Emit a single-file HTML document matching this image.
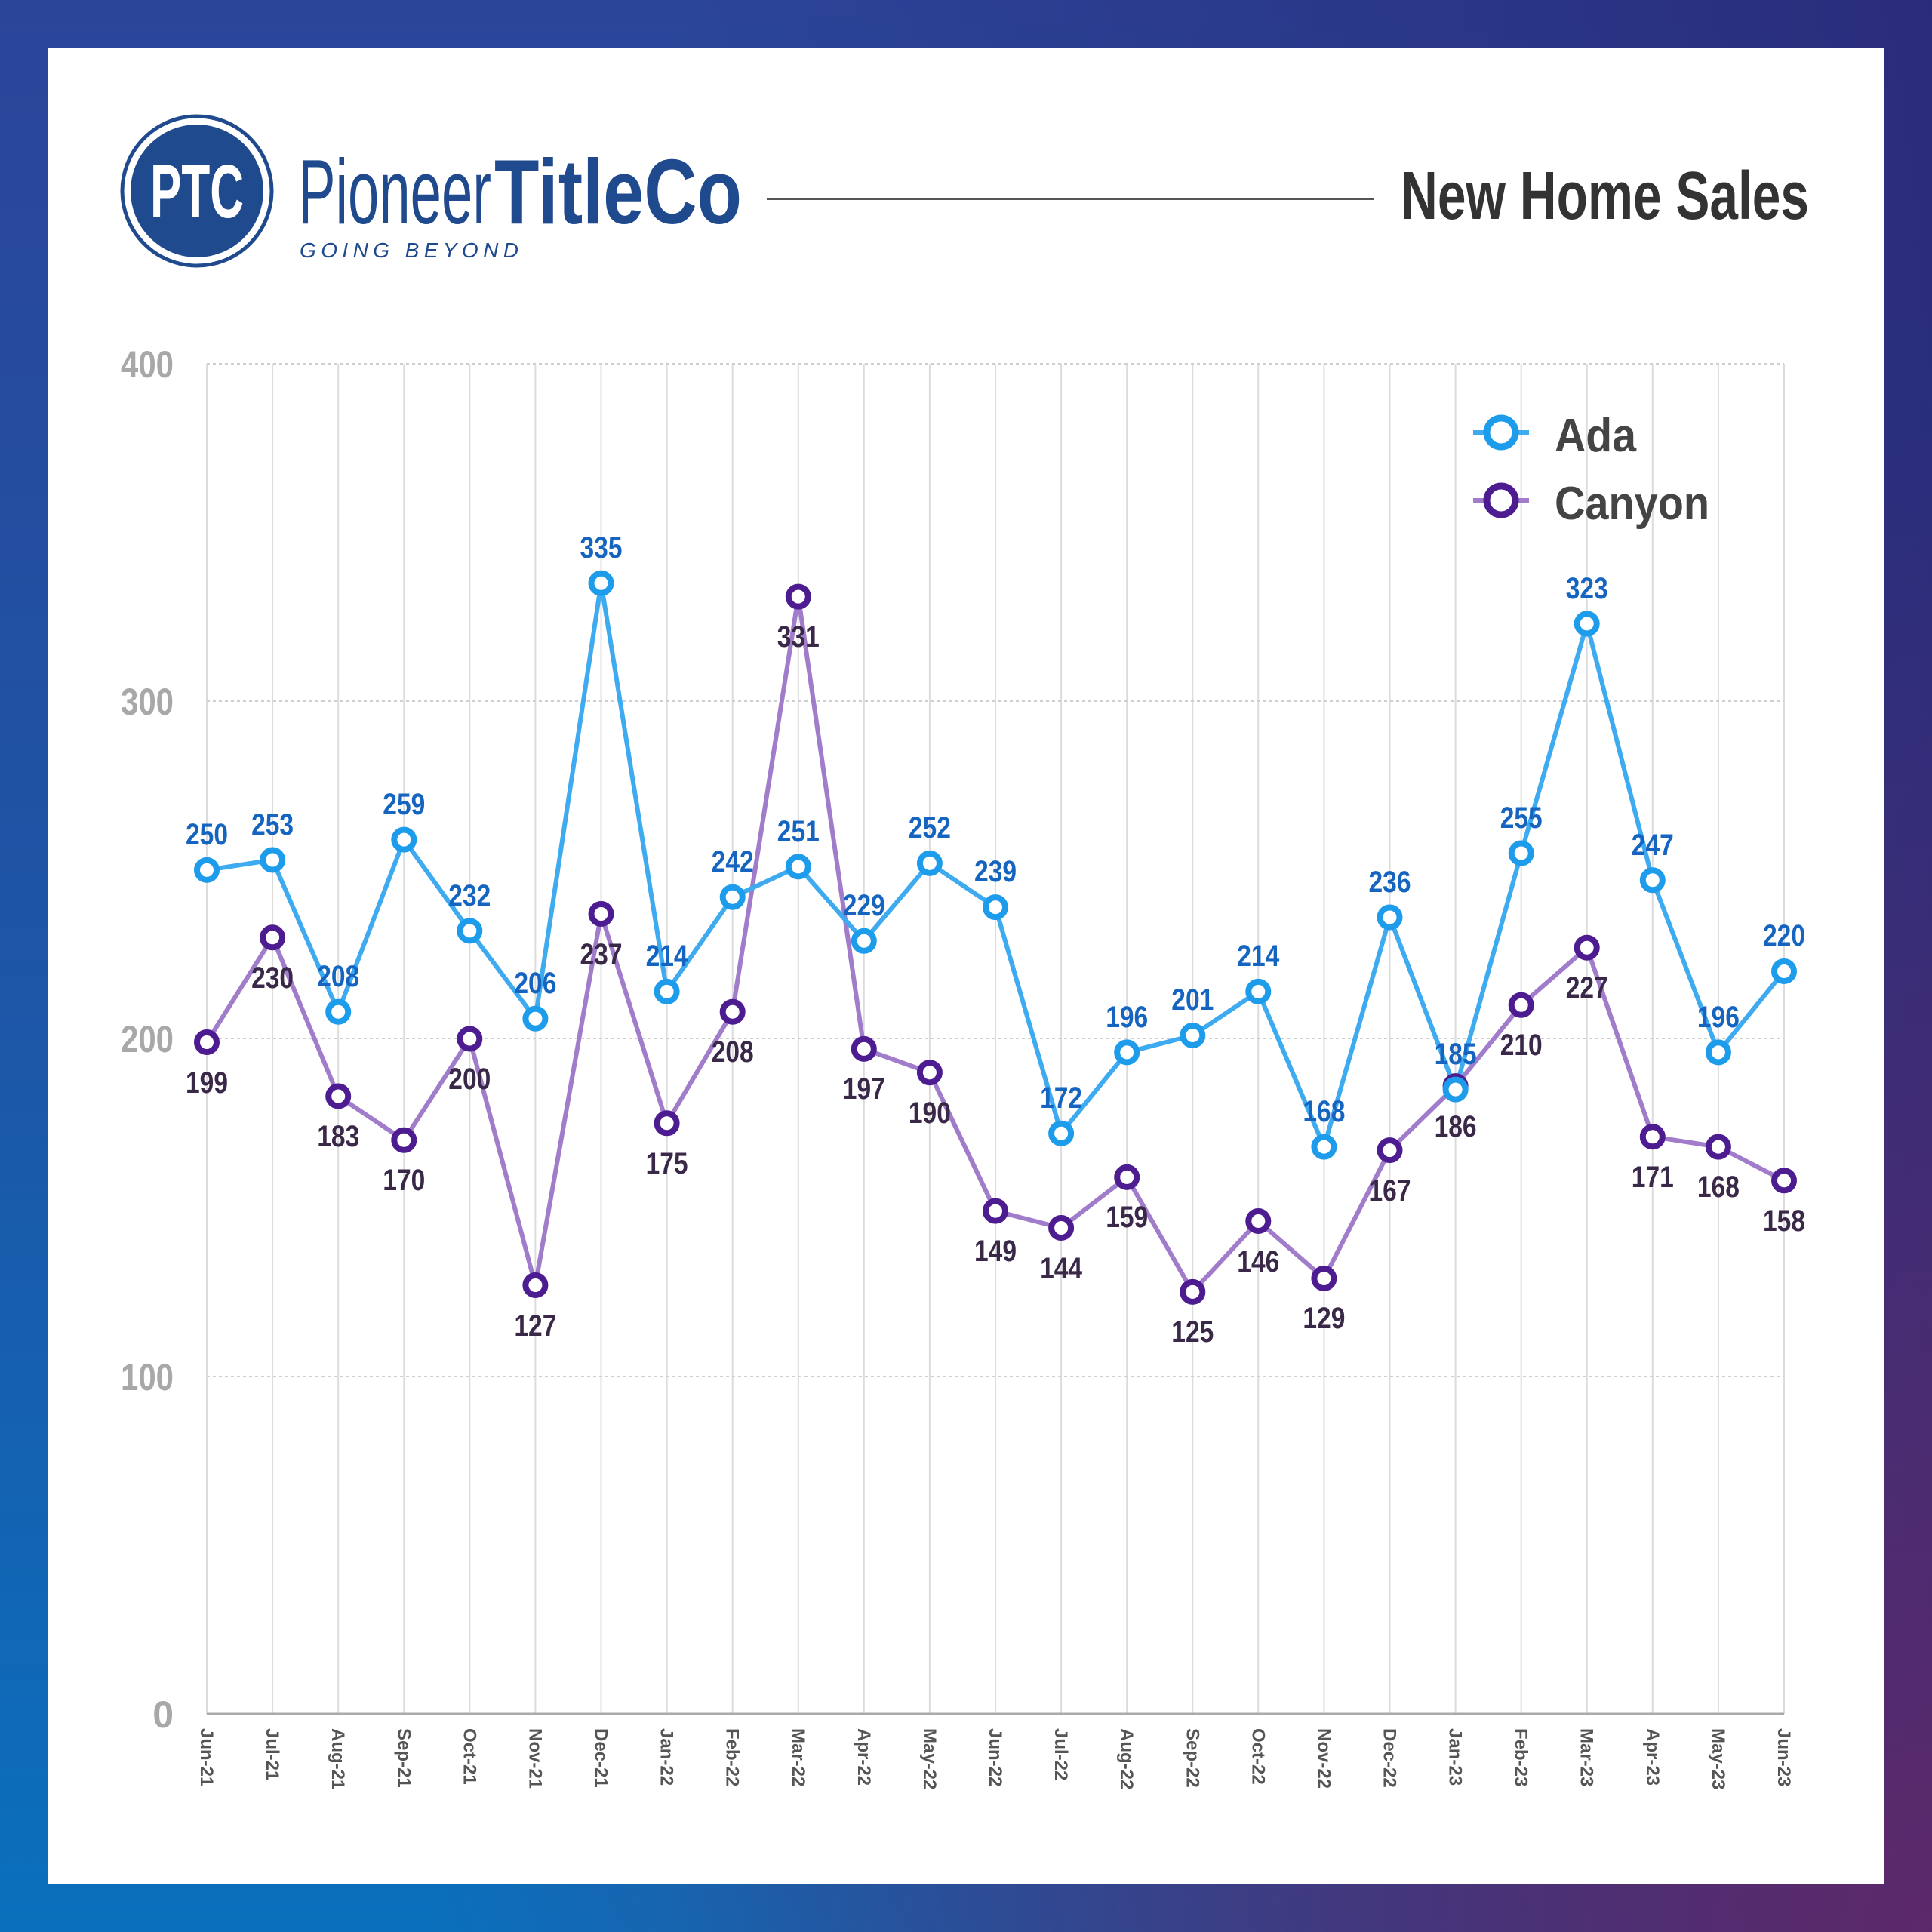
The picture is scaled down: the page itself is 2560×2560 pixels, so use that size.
<!DOCTYPE html>
<html><head><meta charset="utf-8"><style>
html,body{margin:0;padding:0;}
body{width:2560px;height:2560px;position:relative;overflow:hidden;
background:radial-gradient(circle at 100% 100%, rgba(95,40,105,0.95) 0, rgba(95,40,105,0) 55%), linear-gradient(to right, rgba(42,42,125,0) 35%, rgba(42,40,118,0.85) 100%), linear-gradient(to bottom,#2b4599 0%,#1c57a8 55%,#0a70bd 100%);}
#panel{position:absolute;left:64px;top:64px;width:2432px;height:2432px;background:#fff;}
svg{position:absolute;left:0;top:0;}
</style></head><body>
<div id="panel"></div>
<svg width="2560" height="2560" viewBox="0 0 2560 2560" font-family="'Liberation Sans Narrow','Liberation Sans',sans-serif" font-weight="bold">
<circle cx="261" cy="253" r="99" fill="#fff" stroke="#1f4a8e" stroke-width="5"/>
<circle cx="261" cy="253" r="88" fill="#1f4a8e"/>
<text x="261" y="288" text-anchor="middle" fill="#fff" font-size="100" textLength="124" lengthAdjust="spacingAndGlyphs">PTC</text>
<text x="395" y="296" fill="#1f4a8e" font-size="122" font-weight="normal" textLength="256" lengthAdjust="spacingAndGlyphs">Pioneer</text>
<text x="655" y="296" fill="#1f4a8e" font-size="122" textLength="328" lengthAdjust="spacingAndGlyphs">TitleCo</text>
<text x="397" y="341" fill="#1f4a8e" font-size="28" font-weight="normal" font-style="italic" textLength="290" lengthAdjust="spacing">GOING  BEYOND</text>
<line x1="1016" y1="264" x2="1820" y2="264" stroke="#555" stroke-width="2"/>
<text x="1856" y="290" fill="#333" font-size="90" textLength="541" lengthAdjust="spacingAndGlyphs">New Home Sales</text>
<g stroke="#dcdcdc" stroke-width="2">
<line x1="274" y1="482" x2="274" y2="2271"/><line x1="361.1" y1="482" x2="361.1" y2="2271"/><line x1="448.2" y1="482" x2="448.2" y2="2271"/><line x1="535.3" y1="482" x2="535.3" y2="2271"/><line x1="622.3" y1="482" x2="622.3" y2="2271"/><line x1="709.4" y1="482" x2="709.4" y2="2271"/><line x1="796.5" y1="482" x2="796.5" y2="2271"/><line x1="883.6" y1="482" x2="883.6" y2="2271"/><line x1="970.7" y1="482" x2="970.7" y2="2271"/><line x1="1057.8" y1="482" x2="1057.8" y2="2271"/><line x1="1144.8" y1="482" x2="1144.8" y2="2271"/><line x1="1231.9" y1="482" x2="1231.9" y2="2271"/><line x1="1319" y1="482" x2="1319" y2="2271"/><line x1="1406.1" y1="482" x2="1406.1" y2="2271"/><line x1="1493.2" y1="482" x2="1493.2" y2="2271"/><line x1="1580.3" y1="482" x2="1580.3" y2="2271"/><line x1="1667.3" y1="482" x2="1667.3" y2="2271"/><line x1="1754.4" y1="482" x2="1754.4" y2="2271"/><line x1="1841.5" y1="482" x2="1841.5" y2="2271"/><line x1="1928.6" y1="482" x2="1928.6" y2="2271"/><line x1="2015.7" y1="482" x2="2015.7" y2="2271"/><line x1="2102.7" y1="482" x2="2102.7" y2="2271"/><line x1="2189.8" y1="482" x2="2189.8" y2="2271"/><line x1="2276.9" y1="482" x2="2276.9" y2="2271"/><line x1="2364" y1="482" x2="2364" y2="2271"/>
</g>
<g stroke="#cfcfcf" stroke-width="2" stroke-dasharray="4 4">
<line x1="274" y1="482" x2="2364" y2="482"/><line x1="274" y1="929" x2="2364" y2="929"/><line x1="274" y1="1376" x2="2364" y2="1376"/><line x1="274" y1="1824" x2="2364" y2="1824"/>
</g>
<line x1="274" y1="2271" x2="2364" y2="2271" stroke="#aaa" stroke-width="3"/>
<g fill="#a8a8a8" font-size="50" text-anchor="end">
<text x="230" y="500" textLength="70" lengthAdjust="spacingAndGlyphs">400</text>
<text x="230" y="947" textLength="70" lengthAdjust="spacingAndGlyphs">300</text>
<text x="230" y="1394" textLength="70" lengthAdjust="spacingAndGlyphs">200</text>
<text x="230" y="1842" textLength="70" lengthAdjust="spacingAndGlyphs">100</text>
<text x="230" y="2289">0</text>
</g>
<g fill="#555" font-size="24" font-family="'Liberation Sans',sans-serif">
<text transform="translate(266,2290) rotate(90)">Jun-21</text>
<text transform="translate(353.1,2290) rotate(90)">Jul-21</text>
<text transform="translate(440.2,2290) rotate(90)">Aug-21</text>
<text transform="translate(527.3,2290) rotate(90)">Sep-21</text>
<text transform="translate(614.3,2290) rotate(90)">Oct-21</text>
<text transform="translate(701.4,2290) rotate(90)">Nov-21</text>
<text transform="translate(788.5,2290) rotate(90)">Dec-21</text>
<text transform="translate(875.6,2290) rotate(90)">Jan-22</text>
<text transform="translate(962.7,2290) rotate(90)">Feb-22</text>
<text transform="translate(1049.8,2290) rotate(90)">Mar-22</text>
<text transform="translate(1136.8,2290) rotate(90)">Apr-22</text>
<text transform="translate(1223.9,2290) rotate(90)">May-22</text>
<text transform="translate(1311,2290) rotate(90)">Jun-22</text>
<text transform="translate(1398.1,2290) rotate(90)">Jul-22</text>
<text transform="translate(1485.2,2290) rotate(90)">Aug-22</text>
<text transform="translate(1572.3,2290) rotate(90)">Sep-22</text>
<text transform="translate(1659.3,2290) rotate(90)">Oct-22</text>
<text transform="translate(1746.4,2290) rotate(90)">Nov-22</text>
<text transform="translate(1833.5,2290) rotate(90)">Dec-22</text>
<text transform="translate(1920.6,2290) rotate(90)">Jan-23</text>
<text transform="translate(2007.7,2290) rotate(90)">Feb-23</text>
<text transform="translate(2094.7,2290) rotate(90)">Mar-23</text>
<text transform="translate(2181.8,2290) rotate(90)">Apr-23</text>
<text transform="translate(2268.9,2290) rotate(90)">May-23</text>
<text transform="translate(2356,2290) rotate(90)">Jun-23</text>
</g>
<polyline fill="none" stroke="#a07ccb" stroke-width="6" stroke-linejoin="round" points="274,1381 361.1,1242.3 448.2,1452.5 535.3,1510.7 622.3,1376.5 709.4,1703 796.5,1211 883.6,1488.3 970.7,1340.7 1057.8,790.6 1144.8,1389.9 1231.9,1421.2 1319,1604.6 1406.1,1627 1493.2,1559.9 1580.3,1711.9 1667.3,1618 1754.4,1694 1841.5,1524.1 1928.6,1439.1 2015.7,1331.8 2102.7,1255.7 2189.8,1506.2 2276.9,1519.6 2364,1564.3"/>
<polyline fill="none" stroke="#3eaaf0" stroke-width="6" stroke-linejoin="round" points="274,1152.9 361.1,1139.5 448.2,1340.7 535.3,1112.6 622.3,1233.4 709.4,1349.7 796.5,772.7 883.6,1313.9 970.7,1188.7 1057.8,1148.4 1144.8,1246.8 1231.9,1143.9 1319,1202.1 1406.1,1501.7 1493.2,1394.4 1580.3,1372 1667.3,1313.9 1754.4,1519.6 1841.5,1215.5 1928.6,1443.6 2015.7,1130.5 2102.7,826.4 2189.8,1166.3 2276.9,1394.4 2364,1287"/>
<g fill="#fff" stroke="#4d1c91" stroke-width="8">
<circle cx="274" cy="1381" r="13"/><circle cx="361.1" cy="1242.3" r="13"/><circle cx="448.2" cy="1452.5" r="13"/><circle cx="535.3" cy="1510.7" r="13"/><circle cx="622.3" cy="1376.5" r="13"/><circle cx="709.4" cy="1703" r="13"/><circle cx="796.5" cy="1211" r="13"/><circle cx="883.6" cy="1488.3" r="13"/><circle cx="970.7" cy="1340.7" r="13"/><circle cx="1057.8" cy="790.6" r="13"/><circle cx="1144.8" cy="1389.9" r="13"/><circle cx="1231.9" cy="1421.2" r="13"/><circle cx="1319" cy="1604.6" r="13"/><circle cx="1406.1" cy="1627" r="13"/><circle cx="1493.2" cy="1559.9" r="13"/><circle cx="1580.3" cy="1711.9" r="13"/><circle cx="1667.3" cy="1618" r="13"/><circle cx="1754.4" cy="1694" r="13"/><circle cx="1841.5" cy="1524.1" r="13"/><circle cx="1928.6" cy="1439.1" r="13"/><circle cx="2015.7" cy="1331.8" r="13"/><circle cx="2102.7" cy="1255.7" r="13"/><circle cx="2189.8" cy="1506.2" r="13"/><circle cx="2276.9" cy="1519.6" r="13"/><circle cx="2364" cy="1564.3" r="13"/>
</g>
<g fill="#fff" stroke="#1d9ceb" stroke-width="8">
<circle cx="274" cy="1152.9" r="13"/><circle cx="361.1" cy="1139.5" r="13"/><circle cx="448.2" cy="1340.7" r="13"/><circle cx="535.3" cy="1112.6" r="13"/><circle cx="622.3" cy="1233.4" r="13"/><circle cx="709.4" cy="1349.7" r="13"/><circle cx="796.5" cy="772.7" r="13"/><circle cx="883.6" cy="1313.9" r="13"/><circle cx="970.7" cy="1188.7" r="13"/><circle cx="1057.8" cy="1148.4" r="13"/><circle cx="1144.8" cy="1246.8" r="13"/><circle cx="1231.9" cy="1143.9" r="13"/><circle cx="1319" cy="1202.1" r="13"/><circle cx="1406.1" cy="1501.7" r="13"/><circle cx="1493.2" cy="1394.4" r="13"/><circle cx="1580.3" cy="1372" r="13"/><circle cx="1667.3" cy="1313.9" r="13"/><circle cx="1754.4" cy="1519.6" r="13"/><circle cx="1841.5" cy="1215.5" r="13"/><circle cx="1928.6" cy="1443.6" r="13"/><circle cx="2015.7" cy="1130.5" r="13"/><circle cx="2102.7" cy="826.4" r="13"/><circle cx="2189.8" cy="1166.3" r="13"/><circle cx="2276.9" cy="1394.4" r="13"/><circle cx="2364" cy="1287" r="13"/>
</g>
<g fill="#1565c0" font-size="40" text-anchor="middle">
<text x="274" y="1119" textLength="56" lengthAdjust="spacingAndGlyphs">250</text><text x="361.1" y="1106" textLength="56" lengthAdjust="spacingAndGlyphs">253</text><text x="448.2" y="1307" textLength="56" lengthAdjust="spacingAndGlyphs">208</text><text x="535.3" y="1079" textLength="56" lengthAdjust="spacingAndGlyphs">259</text><text x="622.3" y="1200" textLength="56" lengthAdjust="spacingAndGlyphs">232</text><text x="709.4" y="1316" textLength="56" lengthAdjust="spacingAndGlyphs">206</text><text x="796.5" y="739" textLength="56" lengthAdjust="spacingAndGlyphs">335</text><text x="883.6" y="1280" textLength="56" lengthAdjust="spacingAndGlyphs">214</text><text x="970.7" y="1155" textLength="56" lengthAdjust="spacingAndGlyphs">242</text><text x="1057.8" y="1115" textLength="56" lengthAdjust="spacingAndGlyphs">251</text><text x="1144.8" y="1213" textLength="56" lengthAdjust="spacingAndGlyphs">229</text><text x="1231.9" y="1110" textLength="56" lengthAdjust="spacingAndGlyphs">252</text><text x="1319" y="1168" textLength="56" lengthAdjust="spacingAndGlyphs">239</text><text x="1406.1" y="1468" textLength="56" lengthAdjust="spacingAndGlyphs">172</text><text x="1493.2" y="1361" textLength="56" lengthAdjust="spacingAndGlyphs">196</text><text x="1580.3" y="1338" textLength="56" lengthAdjust="spacingAndGlyphs">201</text><text x="1667.3" y="1280" textLength="56" lengthAdjust="spacingAndGlyphs">214</text><text x="1754.4" y="1486" textLength="56" lengthAdjust="spacingAndGlyphs">168</text><text x="1841.5" y="1182" textLength="56" lengthAdjust="spacingAndGlyphs">236</text><text x="1928.6" y="1410" textLength="56" lengthAdjust="spacingAndGlyphs">185</text><text x="2015.7" y="1097" textLength="56" lengthAdjust="spacingAndGlyphs">255</text><text x="2102.7" y="793" textLength="56" lengthAdjust="spacingAndGlyphs">323</text><text x="2189.8" y="1133" textLength="56" lengthAdjust="spacingAndGlyphs">247</text><text x="2276.9" y="1361" textLength="56" lengthAdjust="spacingAndGlyphs">196</text><text x="2364" y="1253" textLength="56" lengthAdjust="spacingAndGlyphs">220</text>
</g>
<g fill="#3a2848" font-size="40" text-anchor="middle">
<text x="274" y="1448" textLength="56" lengthAdjust="spacingAndGlyphs">199</text><text x="361.1" y="1309" textLength="56" lengthAdjust="spacingAndGlyphs">230</text><text x="448.2" y="1519" textLength="56" lengthAdjust="spacingAndGlyphs">183</text><text x="535.3" y="1577" textLength="56" lengthAdjust="spacingAndGlyphs">170</text><text x="622.3" y="1443" textLength="56" lengthAdjust="spacingAndGlyphs">200</text><text x="709.4" y="1770" textLength="56" lengthAdjust="spacingAndGlyphs">127</text><text x="796.5" y="1278" textLength="56" lengthAdjust="spacingAndGlyphs">237</text><text x="883.6" y="1555" textLength="56" lengthAdjust="spacingAndGlyphs">175</text><text x="970.7" y="1407" textLength="56" lengthAdjust="spacingAndGlyphs">208</text><text x="1057.8" y="857" textLength="56" lengthAdjust="spacingAndGlyphs">331</text><text x="1144.8" y="1456" textLength="56" lengthAdjust="spacingAndGlyphs">197</text><text x="1231.9" y="1488" textLength="56" lengthAdjust="spacingAndGlyphs">190</text><text x="1319" y="1671" textLength="56" lengthAdjust="spacingAndGlyphs">149</text><text x="1406.1" y="1694" textLength="56" lengthAdjust="spacingAndGlyphs">144</text><text x="1493.2" y="1626" textLength="56" lengthAdjust="spacingAndGlyphs">159</text><text x="1580.3" y="1778" textLength="56" lengthAdjust="spacingAndGlyphs">125</text><text x="1667.3" y="1685" textLength="56" lengthAdjust="spacingAndGlyphs">146</text><text x="1754.4" y="1760" textLength="56" lengthAdjust="spacingAndGlyphs">129</text><text x="1841.5" y="1591" textLength="56" lengthAdjust="spacingAndGlyphs">167</text><text x="1928.6" y="1506" textLength="56" lengthAdjust="spacingAndGlyphs">186</text><text x="2015.7" y="1398" textLength="56" lengthAdjust="spacingAndGlyphs">210</text><text x="2102.7" y="1322" textLength="56" lengthAdjust="spacingAndGlyphs">227</text><text x="2189.8" y="1573" textLength="56" lengthAdjust="spacingAndGlyphs">171</text><text x="2276.9" y="1586" textLength="56" lengthAdjust="spacingAndGlyphs">168</text><text x="2364" y="1631" textLength="56" lengthAdjust="spacingAndGlyphs">158</text>
</g>
<line x1="1952" y1="573" x2="2026" y2="573" stroke="#3eaaf0" stroke-width="6"/>
<circle cx="1989" cy="573" r="19" fill="#fff" stroke="#1d9ceb" stroke-width="9"/>
<line x1="1952" y1="663" x2="2026" y2="663" stroke="#a07ccb" stroke-width="6"/>
<circle cx="1989" cy="663" r="19" fill="#fff" stroke="#4d1c91" stroke-width="9"/>
<g fill="#444" font-size="62">
<text x="2060" y="598" textLength="108" lengthAdjust="spacingAndGlyphs">Ada</text>
<text x="2060" y="688" textLength="205" lengthAdjust="spacingAndGlyphs">Canyon</text>
</g>
</svg>
</body></html>
